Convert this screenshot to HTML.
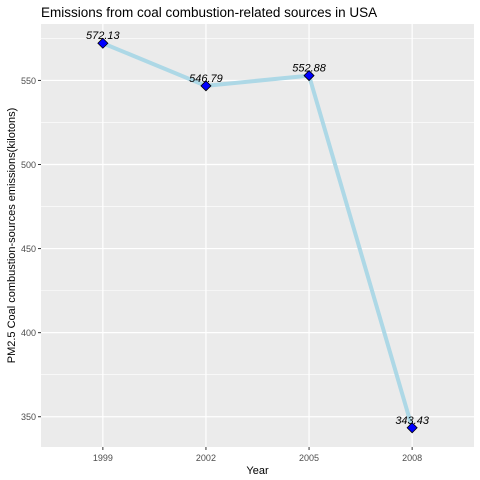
<!DOCTYPE html>
<html><head><meta charset="utf-8"><style>body{margin:0;background:#fff}svg{display:block;font-family:"Liberation Sans",sans-serif}</style></head>
<body>
<svg id="c" width="480" height="480"></svg>
<script>
const years=["1999","2002","2005","2008"];
const emissions=[572.13,546.79,552.88,343.43];
const yTicks=[350,400,450,500,550];
const svg=document.getElementById('c');
const NS='http://www.w3.org/2000/svg';
const L=41,R=474,T=24,B=447;
const ymin=Math.min(...emissions),ymax=Math.max(...emissions),pad=(ymax-ymin)*0.05;
const d0=ymin-pad,d1=ymax+pad;
const y=v=>B-(v-d0)/(d1-d0)*(B-T);
const step=(R-L)/(years.length-1+1.2);
const x=i=>L+(i+0.6)*step;
function mk(t,a,p){const e=document.createElementNS(NS,t);for(const k in a)e.setAttribute(k,a[k]);(p||svg).appendChild(e);return e;}
const bg=mk('rect',{x:L,y:T,width:R-L,height:B-T,fill:'#ebebeb'});


for(let i=0;i<yTicks.length-1;i++){const m=(yTicks[i]+yTicks[i+1])/2;mk('line',{x1:L,x2:R,y1:y(m),y2:y(m),stroke:'#fff','stroke-width':0.6});}
mk('line',{x1:L,x2:R,y1:y(yTicks[0]-25),y2:y(yTicks[0]-25),stroke:'#fff','stroke-width':0.6});
mk('line',{x1:L,x2:R,y1:y(575),y2:y(575),stroke:'#fff','stroke-width':0.6});
yTicks.forEach(v=>{
 const g=mk('line',{x1:L,x2:R,y1:y(v),y2:y(v),stroke:'#fff','stroke-width':1.2});
 
 
 mk('line',{x1:L-3,x2:L,y1:y(v),y2:y(v),stroke:'#333'});
 const t=mk('text',{x:L-5,y:y(v)+3.5,'text-anchor':'end','font-size':9,fill:'#4d4d4d'});t.textContent=v;
 
 
});
years.forEach((yr,i)=>{
 const g=mk('line',{x1:x(i),x2:x(i),y1:T,y2:B,stroke:'#fff','stroke-width':1.2});
 
 
 mk('line',{x1:x(i),x2:x(i),y1:B,y2:B+3,stroke:'#333'});
 const t=mk('text',{x:x(i),y:B+14,'text-anchor':'middle','font-size':9,fill:'#4d4d4d'});t.textContent=yr;
 
 
});
const line=mk('polyline',{points:emissions.map((v,i)=>x(i)+','+y(v)).join(' '),fill:'none',stroke:'#add8e6','stroke-width':4});


emissions.forEach((v,i)=>{
 const cx=x(i),cy=y(v);
 const p=mk('polygon',{points:`${cx},${cy-5} ${cx+5},${cy} ${cx},${cy+5} ${cx-5},${cy}`,fill:'#0000ff',stroke:'#000','stroke-width':0.8});
 
 
 const t=mk('text',{x:cx,y:cy-4,'text-anchor':'middle','font-size':11,'font-style':'italic',fill:'#000'});t.textContent=v.toFixed(2);
 
 
});
const title=mk('text',{x:L,y:17,'font-size':13.5,fill:'#000'});title.textContent='Emissions from coal combustion-related sources in USA';


const xt=mk('text',{x:(L+R)/2,y:474,'text-anchor':'middle','font-size':11,fill:'#000'});xt.textContent='Year';


const yt=mk('text',{x:0,y:0,'text-anchor':'middle','font-size':11,fill:'#000',transform:`translate(15,${(T+B)/2}) rotate(-90)`});yt.textContent='PM2.5 Coal combustion-sources emissions(kilotons)';


</script>
</body></html>
